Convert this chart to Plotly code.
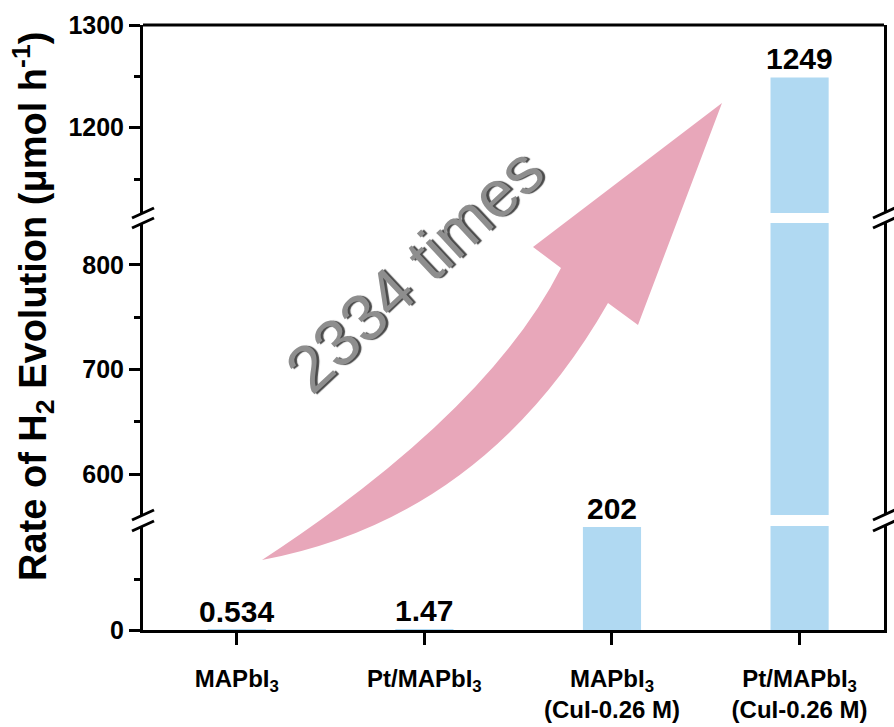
import plotly.graph_objects as go

# ---- data ----
categories = ["MAPbI<sub>3</sub>", "Pt/MAPbI<sub>3</sub>",
              "MAPbI<sub>3</sub><br>(CuI-0.26 M)", "Pt/MAPbI<sub>3</sub><br>(CuI-0.26 M)"]
rates = [0.534, 1.47, 202, 1249]
rate_labels = ["0.534", "1.47", "202", "1249"]

# broken y-axis segments (bottom -> top)
seg_ranges = [[0, 204], [561, 840], [1117, 1300]]
seg_major = [[0], [600, 700, 800], [1200, 1300]]
seg_minor = [[100], [650, 750], [1150, 1250]]

# ---- layout geometry (pixels) ----
FW, FH = 894, 727
L, R, T, B = 143, 884, 25, 630
W, H = R - L, B - T
seg_px = [(526, 630), (223, 515), (25, 213)]  # (top_px, bottom_px)


def px(x, y):
    return ((x - L) / W, (B - y) / H)


domains = [[(B - b) / H, (B - t) / H] for (t, b) in seg_px]
yaxes = ["y", "y2", "y3"]

BAR_COLOR = "#B0D9F2"
FONT = "Liberation Sans, Arial, sans-serif"
xs = list(range(len(categories)))

fig = go.Figure()
for i, ya in enumerate(yaxes):
    fig.add_trace(go.Bar(x=xs, y=rates, yaxis=ya, xaxis="x", width=0.31,
                         marker=dict(color=BAR_COLOR, line=dict(width=0)),
                         showlegend=False, hoverinfo="skip"))

# value labels on the segment where each bar ends
for xi, v, lab in zip(xs, rates, rate_labels):
    for i, (lo, hi) in enumerate(seg_ranges):
        if lo <= v <= hi:
            fig.add_annotation(x=xi, y=v, xref="x", yref=yaxes[i], text=lab,
                               showarrow=False, yanchor="bottom", yshift=0,
                               font=dict(family=FONT, size=30, color="black", weight="bold"))

axis_common = dict(showline=True, linewidth=3, linecolor="black", mirror=True,
                   ticks="outside", ticklen=11, tickwidth=3, tickcolor="black",
                   showgrid=False, zeroline=False, automargin=False,
                   tickfont=dict(family=FONT, size=25, color="black", weight="bold"))

layout_axes = {}
for i, ya in enumerate(yaxes):
    key = "yaxis" if i == 0 else f"yaxis{i+1}"
    layout_axes[key] = dict(axis_common, domain=domains[i], range=seg_ranges[i],
                            tickmode="array", tickvals=seg_major[i],
                            anchor="x",
                            minor=dict(ticks="outside", ticklen=6, tickwidth=3,
                                       tickcolor="black", tickmode="array",
                                       tickvals=seg_minor[i]))

fig.update_layout(
    width=FW, height=FH,
    margin=dict(l=L, r=FW - R, t=T, b=FH - B),
    paper_bgcolor="white", plot_bgcolor="white",
    xaxis=dict(range=[-0.5, 3.45], tickmode="array", tickvals=xs, ticktext=categories,
               showline=True, linewidth=3, linecolor="black", mirror=False,
               ticks="outside", ticklen=12, tickwidth=3, tickcolor="black",
               showgrid=False, zeroline=False, anchor="y", ticklabelstandoff=13,
               automargin=False,
               tickfont=dict(family=FONT, size=24, color="black", weight="bold")),
    **layout_axes,
)

shapes = []
# top border
shapes.append(dict(type="line", xref="paper", yref="paper", x0=0, x1=1, y0=1, y1=1,
                   line=dict(color="black", width=3)))
# break marks on both spines
for yb in [213, 223, 515, 526]:
    for xs_ in [L, R]:
        x0, y0 = px(xs_ - 11, yb + 5)
        x1, y1 = px(xs_ + 11, yb - 5)
        shapes.append(dict(type="line", xref="paper", yref="paper", x0=x0, y0=y0, x1=x1, y1=y1,
                           line=dict(color="black", width=3)))

# curved pink arrow (decoration)
arrow_pts = {
    "tail": (262, 560), "c1": (488, 412), "j1": (561, 268), "barb1": (533, 247),
    "tip": (722, 103), "barb2": (638, 325), "j2": (608, 303), "c2": (485, 518),
}
P = {k: px(*v) for k, v in arrow_pts.items()}
f = lambda k: f"{P[k][0]:.5f},{P[k][1]:.5f}"
path = (f"M {f('tail')} Q {f('c1')} {f('j1')} L {f('barb1')} L {f('tip')} "
        f"L {f('barb2')} L {f('j2')} Q {f('c2')} {f('tail')} Z")
shapes.append(dict(type="path", xref="paper", yref="paper", path=path,
                   fillcolor="#E8A7BA", line=dict(width=0), layer="above"))
fig.update_layout(shapes=shapes)

# "2334 times" text
tx, ty = px(414, 270)
fig.add_annotation(x=tx, y=ty, xref="paper", yref="paper", text="2334 times",
                   showarrow=False, textangle=-43, xanchor="center", yanchor="middle",
                   font=dict(family=FONT, size=66, color="#8e8e8e",
                             shadow="2px 2px 1px #4a4a4a"))

# y-axis title
ax_, ay_ = px(33, 307)
fig.add_annotation(x=ax_, y=ay_, xref="paper", yref="paper",
                   text="Rate of H<sub>2</sub> Evolution (μmol h<sup>-1</sup>)",
                   showarrow=False, textangle=-90, xanchor="center", yanchor="middle",
                   font=dict(family=FONT, size=38, color="black", weight="bold"))

fig.write_html("out.html")
